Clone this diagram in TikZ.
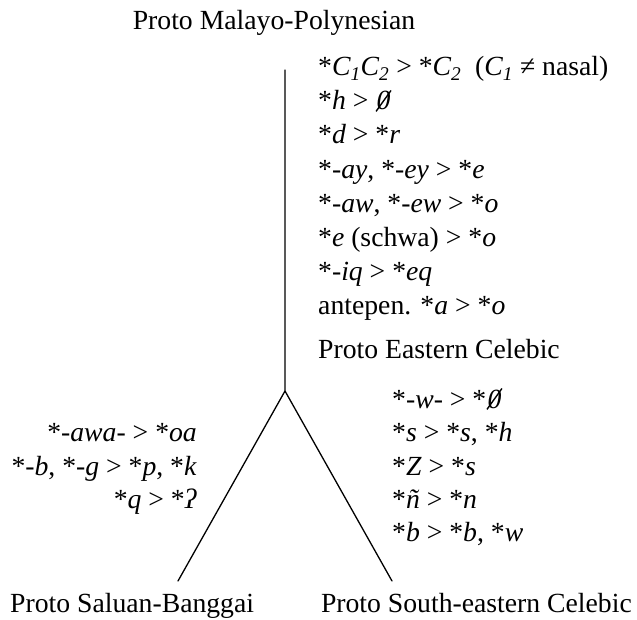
\documentclass[tikz,border=0pt]{standalone}
\usepackage{fontspec}
\setmainfont{Liberation Serif}
\newcommand\slz{\tikz[baseline=(zz.base), x=1pt, y=1pt]{\node[inner sep=0pt, outer sep=0pt] (zz) {\textit{0}}; \draw[line width=0.05em, line cap=butt] ([xshift=-0.02em,yshift=-0.04em]zz.south west) -- ([xshift=0.02em,yshift=0.04em]zz.north east);}}
\begin{document}
\begin{tikzpicture}[x=1pt,y=-1pt,
  lbl/.style={inner sep=0pt, font=\fontsize{27.7}{33}\selectfont},
  rw/.style={lbl, anchor=base west},
  lw/.style={lbl, anchor=base east},
  conn/.style={line width=1.3pt, line cap=round}]
\useasboundingbox (0,0) rectangle (637,620);
\node[lbl, anchor=base] (pmp) at (274,30) {Proto Malayo-Polynesian};
% upper changes
\node[rw] (u1) at (318,76) {*\textit{C\textsubscript{1}C\textsubscript{2}} > *\textit{C\textsubscript{2}}\ \ (\textit{C\textsubscript{1}} ≠ nasal)};
\node[rw] (u2) at (318,110) {*\textit{h} > \slz};
\node[rw] (u3) at (318,144) {*\textit{d} > *\textit{r}};
\node[rw] (u4) at (318,179) {*\textit{-ay}, *\textit{-ey} > *\textit{e}};
\node[rw] (u5) at (318,213) {*\textit{-aw}, *\textit{-ew} > *\textit{o}};
\node[rw] (u6) at (318,247) {*\textit{e} (schwa) > *\textit{o}};
\node[rw] (u7) at (318,281) {*\textit{-iq} > *\textit{eq}};
\node[rw] (u8) at (318,315) {antepen. *\textit{a} > *\textit{o}};
\node[rw] (pec) at (318,358) {Proto Eastern Celebic};
% lower right changes
\node[rw] (r1) at (392,408) {*\textit{-w-} > *\slz};
\node[rw] (r2) at (392,441) {*\textit{s} > *\textit{s}, *\textit{h}};
\node[rw] (r3) at (392,475) {*\textit{Z} > *\textit{s}};
\node[rw] (r4) at (392,508) {*\textit{ñ} > *\textit{n}};
\node[rw] (r5) at (392,541) {*\textit{b} > *\textit{b}, *\textit{w}};
% lower left changes
\node[lw] (l1) at (197,441) {*\textit{-awa-} > *\textit{oa}};
\node[lw] (l2) at (197,475) {*\textit{-b}, *\textit{-g} > *\textit{p}, *\textit{k}};
\node[lw] (l3) at (197,508) {*\textit{q} > *\textit{ʔ}};
% bottom labels
\node[lbl, anchor=base west] (psb) at (10,612) {Proto Saluan-Banggai};
\node[lbl, anchor=base east] (psec) at (632,612) {Proto South-eastern Celebic};
% tree
\coordinate (top) at (285,70);
\coordinate (apex) at (285,391);
\coordinate (lend) at (178,581);
\coordinate (rend) at (392,581);
\draw[conn] (top) -- (apex) -- (lend);
\draw[conn] (apex) -- (rend);
\end{tikzpicture}
\end{document}
